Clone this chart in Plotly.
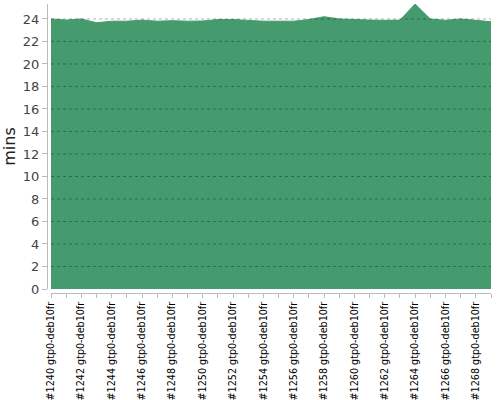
import plotly.graph_objects as go

builds = [f"#{n} gtp0-deb10fr" for n in range(1240, 1270)]
mins = [24.0, 23.9, 24.0, 23.67, 23.8, 23.8, 23.9, 23.8, 23.85, 23.8,
        23.82, 23.95, 23.95, 23.85, 23.8, 23.8, 23.8, 23.95, 24.2, 24.0,
        23.93, 23.9, 23.88, 23.9, 25.33, 24.0, 23.88, 24.0, 23.88, 23.75]
ytick_vals = list(range(0, 25, 2))
tick_text = [b if i % 2 == 0 else "" for i, b in enumerate(builds)]

GREEN = "#459b6d"
x_idx = list(range(len(builds)))

fig = go.Figure()
fig.add_trace(go.Scatter(
    x=x_idx, y=mins, mode="lines", fill="tozeroy",
    fillcolor=GREEN, line=dict(color=GREEN, width=1, shape="linear"),
    hoverinfo="skip", showlegend=False,
))

L, R, T, B = 47, 9, 4, 107
W, H = 500, 400
pw, ph = W - L - R, H - T - B
xd0 = 4 / pw
yd0 = 4 / ph

shapes = []
for v in ytick_vals[1:]:
    shapes.append(dict(type="line", xref="paper", yref="y", x0=xd0, x1=1, y0=v, y1=v,
                       line=dict(color="rgba(0,0,0,0.3)", width=1, dash="3px,3px"),
                       layer="above"))

fig.update_layout(
    width=W, height=H,
    margin=dict(l=L, r=R, t=T, b=B, pad=0, autoexpand=False),
    paper_bgcolor="white", plot_bgcolor="white",
    shapes=shapes,
    xaxis=dict(
        domain=[xd0, 1], anchor="free", position=0, automargin=False,
        range=[0, len(builds) - 1],
        tickmode="array", tickvals=x_idx, ticktext=tick_text,
        tickangle=-90, ticks="outside", ticklen=4, tickcolor="#bbbbbb",
        showline=True, linecolor="#bbbbbb", linewidth=1,
        showgrid=False, zeroline=False,
        tickfont=dict(family="DejaVu Sans", size=9.6, color="#000000"),
    ),
    yaxis=dict(
        domain=[yd0, 1], anchor="free", position=0, automargin=False,
        range=[0, max(mins)],
        tickmode="array", tickvals=ytick_vals,
        ticks="outside", ticklen=5, tickcolor="#bbbbbb",
        showline=True, linecolor="#bbbbbb", linewidth=1,
        showgrid=False, zeroline=False,
        tickfont=dict(family="DejaVu Sans", size=13, color="#444444"),
        title=dict(text="mins", font=dict(family="DejaVu Sans", size=16, color="#222222"), standoff=10),
    ),
)

fig.write_html("out.html", config={"displayModeBar": False},
               post_script="document.body.style.margin='0';document.body.style.overflow='hidden';")
